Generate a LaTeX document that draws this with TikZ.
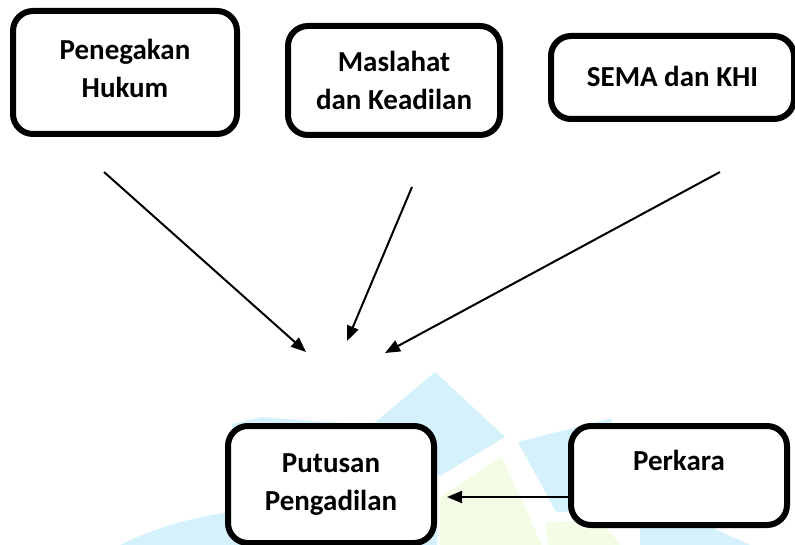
\documentclass[tikz,border=0pt]{standalone}
\usepackage{fontspec}
\setmainfont{Carlito}
\usetikzlibrary{arrows.meta}
\definecolor{wmblue}{RGB}{213,241,252}
\definecolor{wmgreen}{RGB}{243,253,229}
\begin{document}
\begin{tikzpicture}[x=1pt,y=-1pt,
  box/.style={draw=black, line width=6pt, rounded corners=20pt, fill=white,
    inner sep=0pt, outer sep=0pt,
    font=\bfseries\fontsize{29}{38}\selectfont, align=center},
  arr/.style={line width=2pt, -{Triangle[length=15pt,width=12pt]}}]
\useasboundingbox[fill=white] (0,0) rectangle (795,545);
% watermark
\fill[wmblue] (435,372) -- (505,437) -- (440,476) -- (372,425) -- cycle;
\fill[wmblue] (262,417) -- (380,426) -- (437,480) -- (437,545) -- (120,545)
  .. controls (150,530) and (190,517) .. (232,512) -- (232,424) -- cycle;
\fill[wmgreen] (440,497) -- (502,457) -- (542,545) -- (440,545) -- cycle;
\fill[wmgreen] (545,523) -- (600,519) -- (620,545) -- (548,545) -- cycle;
\fill[wmblue] (518,442) -- (612,418) -- (612,512) -- (556,512) -- cycle;
\fill[wmblue] (640,523) -- (700,522) -- (750,545) -- (640,545) -- cycle;
% boxes
\node[box, minimum width=224pt, minimum height=123pt] (hukum) at (125,72.5) {Penegakan\\Hukum\\[-30pt]\mbox{}};
\node[box, minimum width=212pt, minimum height=109pt] (maslahat) at (394,80.5) {Maslahat\\dan Keadilan};
\node[box, minimum width=243pt, minimum height=83pt, text height=18pt, text depth=0pt] (sema) at (672.5,77.5) {SEMA dan KHI};
\node[box, minimum width=206pt, minimum height=117pt] (putusan) at (331,484.5) {Putusan\\Pengadilan};
\node[box, minimum width=216pt, minimum height=99pt, text height=0pt, text depth=9.6pt] (perkara) at (679,475.5) {Perkara};
% free arrows
\coordinate (a1s) at (104,172); \coordinate (a1e) at (306,352);
\coordinate (a2s) at (412,187); \coordinate (a2e) at (347,341);
\coordinate (a3s) at (720,172); \coordinate (a3e) at (385,353);
\draw[arr] (a1s) -- (a1e);
\draw[arr] (a2s) -- (a2e);
\draw[arr] (a3s) -- (a3e);
\draw[arr, shorten >=13pt] ([yshift=-21.5pt]perkara.west) -- ([yshift=-12.5pt]putusan.east);
\end{tikzpicture}
\end{document}
